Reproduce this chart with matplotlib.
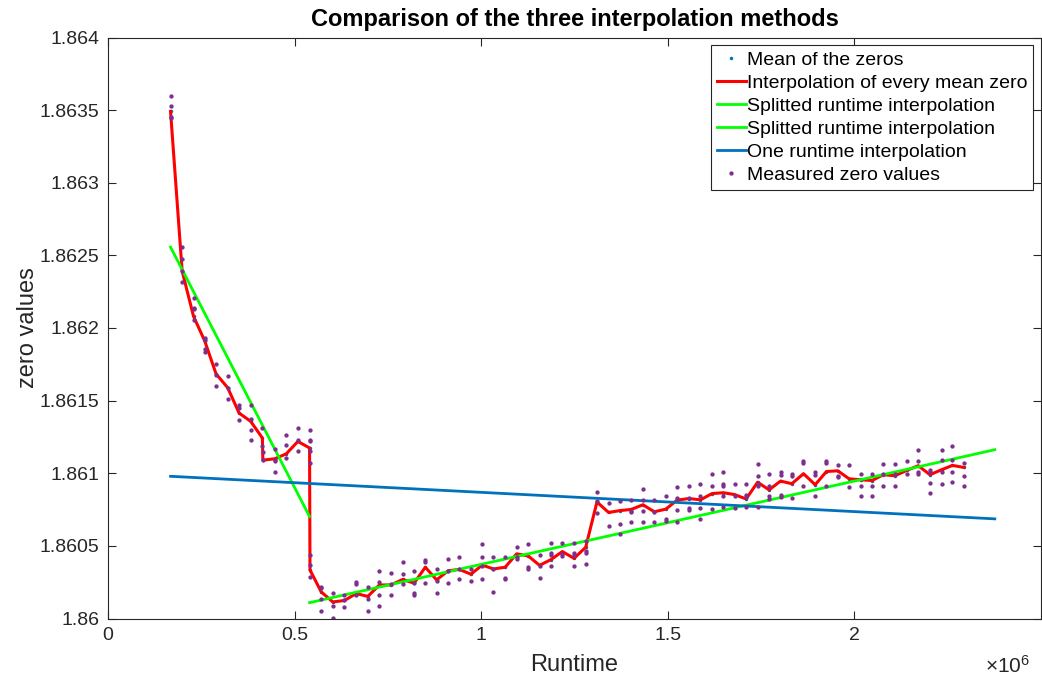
import numpy as np
import matplotlib
matplotlib.use('Agg')
import matplotlib.pyplot as plt
from matplotlib.ticker import FuncFormatter, MultipleLocator, FixedLocator

plt.rcParams['font.family'] = ['Liberation Sans', 'DejaVu Sans']
plt.rcParams['mathtext.fontset'] = 'custom'
plt.rcParams['mathtext.rm'] = 'Liberation Sans'

# runtime of every measurement block (x 1e6)
runtime = np.array([
    0.1676, 0.1987, 0.2291, 0.2594, 0.2896, 0.3209, 0.3511, 0.3824, 0.4136, 0.4150,
    0.4473, 0.4778, 0.5088, 0.5401, 0.5412, 0.5714, 0.6024, 0.6337, 0.6650, 0.6960,
    0.7273, 0.7586, 0.7896, 0.8201, 0.8503, 0.8805, 0.9110, 0.9412, 0.9725, 1.0027,
    1.0329, 1.0642, 1.0949, 1.1257, 1.1564, 1.1872, 1.2174, 1.2487, 1.2799, 1.3102,
    1.3414, 1.3717, 1.4024, 1.4332, 1.4639, 1.4947, 1.5249, 1.5561, 1.5874, 1.6185,
    1.6489, 1.6791, 1.7099, 1.7406, 1.7714, 1.8021, 1.8324, 1.8636, 1.8949, 1.9251,
    1.9553, 1.9858, 2.0168, 2.0473, 2.0775, 2.1088, 2.1398, 2.1711, 2.2024, 2.2334,
    2.2628, 2.2933]) * 1e6

# mean zero per block
mean_zero = [
    1.863491, 1.862392, 1.862081, 1.861909, 1.861684, 1.861588, 1.861415, 1.861357,
    1.861243, 1.861090, 1.861100, 1.861134, 1.861219, 1.861174,
    1.860334, 1.860183, 1.860114, 1.860124, 1.860172, 1.860152, 1.860231, 1.860231,
    1.860269, 1.860243, 1.860353, 1.860266, 1.860328, 1.860338, 1.860305, 1.860368,
    1.860341, 1.860353, 1.860445, 1.860431, 1.860366, 1.860406, 1.860461, 1.860414,
    1.860490, 1.860802, 1.860730, 1.860743, 1.860751, 1.860783, 1.860735, 1.860753,
    1.860815, 1.860826, 1.860817, 1.860860, 1.860866, 1.860853, 1.860823, 1.860938,
    1.860886, 1.860946, 1.860928, 1.860997, 1.860921, 1.861012, 1.861017, 1.860962,
    1.860955, 1.860950, 1.860990, 1.860983, 1.861019, 1.861052, 1.860990, 1.861024,
    1.861054, 1.861040]

# single measured zeros per block
measured = [
    [1.863599, 1.863526, 1.863454, 1.863445],
    [1.862557, 1.862472, 1.862392, 1.862319],
    [1.862208, 1.862139, 1.862128, 1.862054],
    [1.861934, 1.861914, 1.861852, 1.861838],
    [1.861755, 1.861679, 1.861599],
    [1.861672, 1.861590, 1.861514],
    [1.861472, 1.861452, 1.861369],
    [1.861468, 1.861376, 1.861300, 1.861226],
    [1.861312, 1.861190],
    [1.861143, 1.861093],
    [1.861167, 1.861093, 1.861081, 1.861012],
    [1.861266, 1.861192, 1.861105],
    [1.861312, 1.861231, 1.861155],
    [1.861300, 1.861231, 1.861219, 1.861150, 1.861074],
    [1.860438, 1.860366, 1.860283],
    [1.860219, 1.860208, 1.860134, 1.860054],
    [1.860174, 1.860088, 1.860006],
    [1.860162, 1.860128, 1.860077],
    [1.860252, 1.860238, 1.860162],
    [1.860217, 1.860131, 1.860052],
    [1.860328, 1.860252, 1.860162, 1.860088],
    [1.860316, 1.860238, 1.860162],
    [1.860388, 1.860307, 1.860238],
    [1.860330, 1.860243, 1.860174, 1.860162],
    [1.860403, 1.860388, 1.860247],
    [1.860339, 1.860259, 1.860174],
    [1.860412, 1.860330, 1.860247],
    [1.860426, 1.860339, 1.860270],
    [1.860339, 1.860259],
    [1.860512, 1.860426, 1.860362, 1.860270],
    [1.860426, 1.860339, 1.860185],
    [1.860422, 1.860281, 1.860270],
    [1.860495, 1.860422, 1.860410],
    [1.860512, 1.860353, 1.860339],
    [1.860438, 1.860362, 1.860281],
    [1.860523, 1.860450, 1.860436, 1.860364],
    [1.860523, 1.860445, 1.860431],
    [1.860523, 1.860450, 1.860436, 1.860364],
    [1.860537, 1.860466, 1.860454, 1.860376],
    [1.860874, 1.860806, 1.860726],
    [1.860794, 1.860638],
    [1.860812, 1.860652, 1.860581],
    [1.860817, 1.860743, 1.860730, 1.860663],
    [1.860891, 1.860817, 1.860743, 1.860663],
    [1.860817, 1.860734, 1.860663],
    [1.860845, 1.860684, 1.860668],
    [1.860905, 1.860829, 1.860748, 1.860663],
    [1.860914, 1.860829, 1.860760, 1.860748],
    [1.860923, 1.860840, 1.860760, 1.860686],
    [1.860994, 1.860909, 1.860753],
    [1.861008, 1.860928, 1.860914, 1.860840, 1.860767],
    [1.860926, 1.860840, 1.860760],
    [1.860926, 1.860852, 1.860836, 1.860767],
    [1.861066, 1.860983, 1.860926, 1.860914, 1.860767],
    [1.860994, 1.860914, 1.860840, 1.860826],
    [1.861006, 1.860990, 1.860852, 1.860836],
    [1.860994, 1.860978, 1.860829],
    [1.861081, 1.861070, 1.860909],
    [1.861006, 1.860990, 1.860840],
    [1.861081, 1.861070, 1.860909],
    [1.861054, 1.860983, 1.860971],
    [1.861054, 1.860902],
    [1.860994, 1.860914, 1.860840],
    [1.860994, 1.860914, 1.860840],
    [1.861066, 1.860994, 1.860914],
    [1.861066, 1.860994, 1.860914],
    [1.861081, 1.860994],
    [1.861162, 1.861081, 1.861012, 1.860994],
    [1.861024, 1.861006, 1.860932, 1.860863],
    [1.861162, 1.861088, 1.861012, 1.860926],
    [1.861190, 1.861088, 1.861006, 1.860937],
    [1.861070, 1.860983, 1.860909],
]

# linear fits: two runtime parts and the whole runtime
split1_x = np.array([0.1676, 0.5401]) * 1e6
split1_y = [1.862557, 1.860702]
split2_x = np.array([0.5401, 2.3762]) * 1e6
split2_y = [1.860109, 1.861162]
one_x = np.array([0.1676, 2.3762]) * 1e6
one_y = [1.860979, 1.860686]

x_ticks = [0, 0.5e6, 1e6, 1.5e6, 2e6]

meas_x = [t for t, vals in zip(runtime, measured) for _ in vals]
meas_y = [v for vals in measured for v in vals]

fig = plt.figure(figsize=(10.42, 6.82), dpi=100)
ax = fig.add_axes([108 / 1042, 1 - 618.5 / 682, 933 / 1042, 581 / 682])

ax.plot(runtime, mean_zero, '.', color='#0072BD', markersize=3, label='Mean of the zeros')
ax.plot(runtime, mean_zero, '-', color='#FF0000', lw=2.2, label='Interpolation of every mean zero')
ax.plot(split1_x, split1_y, '-', color='#00FF00', lw=2, label='Splitted runtime interpolation')
ax.plot(split2_x, split2_y, '-', color='#00FF00', lw=2, label='Splitted runtime interpolation')
ax.plot(one_x, one_y, '-', color='#0072BD', lw=2, label='One runtime interpolation')
ax.plot(meas_x, meas_y, '.', color='#7E2F8E', markersize=4.2, lw=0, label='Measured zero values')

ax.set_xlim(0, 2.5e6)
ax.set_ylim(1.86, 1.864)
ax.xaxis.set_major_locator(FixedLocator(x_ticks))
ax.yaxis.set_major_locator(MultipleLocator(0.0005))
ax.xaxis.set_major_formatter(FuncFormatter(lambda v, p: '%g' % (v / 1e6)))
ax.yaxis.set_major_formatter(FuncFormatter(lambda v, p: '%g' % round(v, 5)))

dark = '#262626'
ax.tick_params(direction='in', top=True, right=True, length=6, width=0.8,
               colors=dark, labelsize=14, pad=6)
for s in ax.spines.values():
    s.set_color(dark)
    s.set_linewidth(0.8)

ax.set_xlabel('Runtime', fontsize=17, color=dark, labelpad=7)
ax.set_ylabel('zero values', fontsize=17, color=dark, labelpad=1)
ax.set_title('Comparison of the three interpolation methods', fontsize=17,
             fontweight='bold', pad=8)
fig.text(1030 / 1042, 1 - 666 / 682, r'$\times\mathregular{10^{6}}$', fontsize=15,
         color=dark, ha='right', va='center')

leg = ax.legend(loc='upper right', fontsize=14, frameon=True, fancybox=False,
                edgecolor=dark, framealpha=1, handlelength=1.5, handletextpad=0.05,
                labelspacing=0.28, borderpad=0.3, borderaxespad=0.4, markerscale=1)
leg.get_frame().set_linewidth(0.8)

fig.savefig('out.png', dpi=100)
